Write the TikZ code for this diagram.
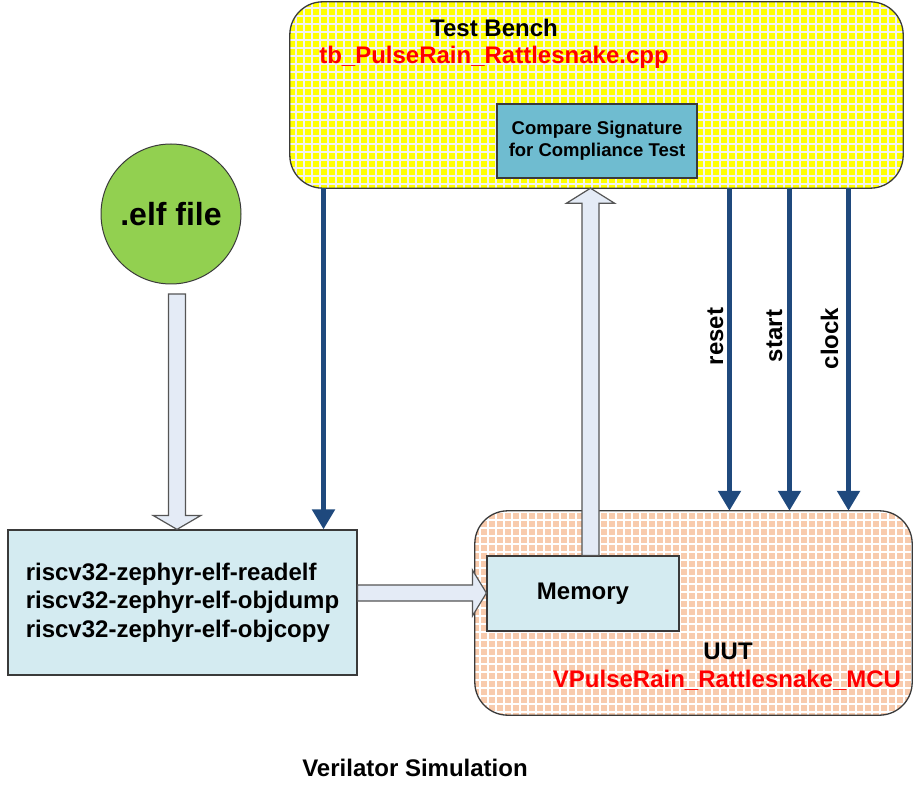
\documentclass[tikz,border=0pt]{standalone}
\usepackage{fontspec}
\setmainfont{Liberation Sans}
\usetikzlibrary{arrows.meta,calc}
\definecolor{tbyellow}{HTML}{FFFF00}
\definecolor{uutpeach}{HTML}{F8CBAD}
\definecolor{cmpteal}{HTML}{6FBCD0}
\definecolor{toolfill}{HTML}{D4EBF1}
\definecolor{elfgreen}{HTML}{92D050}
\definecolor{hollowfill}{HTML}{E4EBF6}
\definecolor{arrowgray}{HTML}{555555}
\definecolor{sigblue}{HTML}{1F497D}
\definecolor{boxborder}{HTML}{3A3A3A}
\definecolor{gridwhite}{HTML}{F2F2F2}
\begin{document}
\begin{tikzpicture}[x=1pt,y=-1pt,
  box/.style={draw=boxborder, line width=1.2pt, inner sep=0pt},
  lbl/.style={font=\bfseries\fontsize{24}{28.5}\selectfont, inner sep=0pt},
  sig/.style={draw=sigblue, line width=5pt, -{Triangle[width=22pt,length=20pt]}},
  hollow/.style={draw=arrowgray, fill=hollowfill, line width=1.2pt, line join=miter},
  gridl/.style={draw=gridwhite, line width=1.2pt},
  border/.style={draw=boxborder, line width=1.3pt}]
\useasboundingbox (0,0) rectangle (916,794);

% Test bench
\node[fill=tbyellow, rounded corners=33pt, minimum width=613pt, minimum height=186pt, inner sep=0pt] (tb) at (596.5,95) {};
\begin{scope}
  \clip[rounded corners=33pt] (tb.south west) rectangle (tb.north east);
  \draw[gridl, step=8pt] (tb.south west) grid (tb.north east);
\end{scope}
\draw[border, rounded corners=33pt] (tb.south west) rectangle (tb.north east);
\node[lbl] (tbtitle) at (494,28) {Test Bench};
\node[lbl, text=red] (tbfile) at (494,57) {tb\_PulseRain\_Rattlesnake.cpp};
\node[box, fill=cmpteal, minimum width=200pt, minimum height=74pt, align=center,
      font=\bfseries\fontsize{18.5}{22}\selectfont] (cmp) at (597,141) {Compare Signature\\for Compliance Test};

% UUT
\node[fill=uutpeach, rounded corners=33pt, minimum width=437pt, minimum height=204pt, inner sep=0pt] (uut) at (693.5,613) {};
\begin{scope}
  \clip[rounded corners=33pt] (uut.south west) rectangle (uut.north east);
  \draw[gridl, draw=white, step=8pt] (uut.south west) grid (uut.north east);
\end{scope}
\draw[border, rounded corners=33pt] (uut.south west) rectangle (uut.north east);
\node[box, lbl, fill=toolfill, minimum width=192pt, minimum height=75pt] (mem) at (583,593.5) {Memory};
\node[lbl] (uutt) at (728,651) {UUT};
\node[lbl, text=red] (uutf) at (727,680) {VPulseRain\_Rattlesnake\_MCU};

% tools
\node[box, lbl, fill=toolfill, minimum width=349pt, minimum height=145pt, align=left] (tools) at (182.5,602.5)
  {riscv32-zephyr-elf-readelf\\riscv32-zephyr-elf-objdump\\riscv32-zephyr-elf-objcopy};

% elf file
\node[circle, draw=boxborder, line width=1pt, fill=elfgreen, minimum size=140pt, inner sep=0pt,
      font=\bfseries\fontsize{32}{36}\selectfont] (elf) at (171,214) {.elf file};

% Verilator
\node[lbl] (sim) at (415,768) {Verilator Simulation};

% hollow arrow elf -> tools
\coordinate (es) at (177,294);
\coordinate (et) at (tools.north -| es);
\draw[hollow] ([xshift=-8.5pt]es) -- ([xshift=-8.5pt,yshift=14pt]et) -- ([xshift=-24pt,yshift=14pt]et) -- (et)
  -- ([xshift=24pt,yshift=14pt]et) -- ([xshift=8.5pt,yshift=14pt]et) -- ([xshift=8.5pt]es) -- cycle;

% hollow arrow memory -> compare
\coordinate (upx) at (590.5,0);
\coordinate (us) at (mem.north -| upx);
\coordinate (ut) at (tb.south -| upx);
\draw[hollow] ([xshift=-8.5pt]us) -- ([xshift=-8.5pt,yshift=-15pt]ut) -- ([xshift=-24pt,yshift=-15pt]ut) -- (ut)
  -- ([xshift=24pt,yshift=-15pt]ut) -- ([xshift=8.5pt,yshift=-15pt]ut) -- ([xshift=8.5pt]us) -- cycle;

% hollow arrow tools -> memory
\coordinate (ry) at (0,593);
\coordinate (rs) at (tools.east |- ry);
\coordinate (rt) at (mem.west |- ry);
\draw[hollow] ([yshift=8pt]rs) -- ([xshift=-14pt,yshift=8pt]rt) -- ([xshift=-14pt,yshift=23pt]rt) -- (rt)
  -- ([xshift=-14pt,yshift=-23pt]rt) -- ([xshift=-14pt,yshift=-8pt]rt) -- ([yshift=-8pt]rs) -- cycle;

% signal arrows
\coordinate (xl) at (323.5,0);
\coordinate (xr) at (729.5,0);
\coordinate (xs) at (789.5,0);
\coordinate (xc) at (848.5,0);
\draw[sig] (tb.south -| xl) -- (tools.north -| xl);
\draw[sig] (tb.south -| xr) -- (uut.north -| xr);
\draw[sig] (tb.south -| xs) -- (uut.north -| xs);
\draw[sig] (tb.south -| xc) -- (uut.north -| xc);
\node[lbl, rotate=90, anchor=base] (lreset) at (723,336.5) {reset};
\node[lbl, rotate=90, anchor=base] (lstart) at (782,336) {start};
\node[lbl, rotate=90, anchor=base] (lclock) at (838,338.5) {clock};
\end{tikzpicture}
\end{document}
